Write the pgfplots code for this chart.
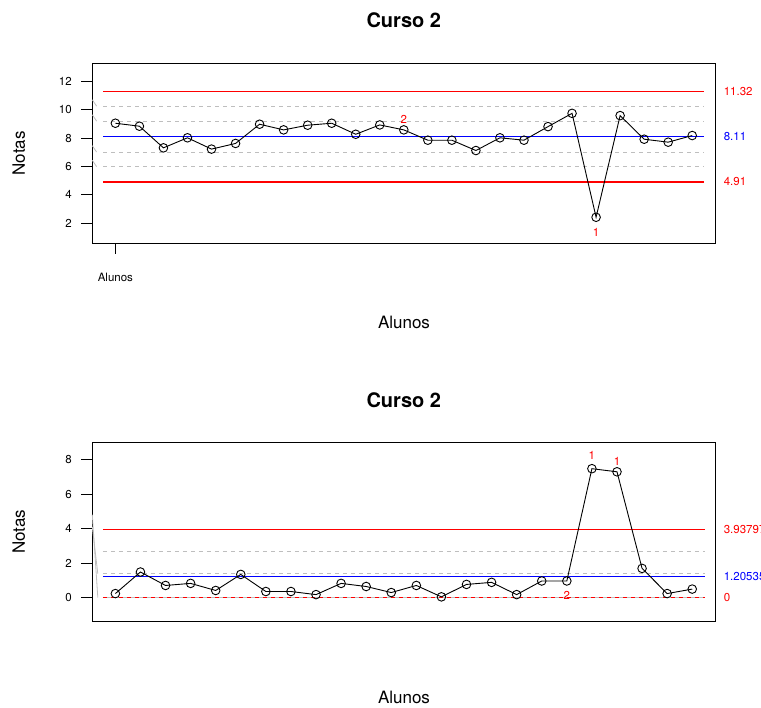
\documentclass[border=0pt]{standalone}
\usepackage{fontspec}
\setmainfont{TeX Gyre Heros}
\usepackage{pgfplots}
\pgfplotsset{compat=1.18}
\definecolor{qred}{RGB}{255,0,0}
\definecolor{qblue}{RGB}{0,0,255}
\definecolor{qgray}{RGB}{190,190,190}
\begin{document}
\begin{tikzpicture}[x=1pt,y=1pt]
\path[use as bounding box] (0pt,0pt) rectangle (761pt,708pt);
\pgfplotsset{
  qcc/.style={
    scale only axis, width=623pt,
    axis line style={line width=0.9pt},
    tick align=outside, major tick length=11pt,
    tick style={line width=0.9pt, black},
    ytick pos=left, xtick pos=bottom,
    ticklabel style={font=\fontsize{11.5}{13}\selectfont},
    yticklabel style={xshift=-6pt},
    xticklabel style={yshift=-16pt},
    /pgf/number format/assume math mode=true,
    clip=false,
  },
  zone/.style={draw=qgray, line width=0.9pt, dash pattern=on 4pt off 4pt, forget plot},
  slant/.style={draw=qgray, line width=0.8pt, forget plot},
  pts/.style={draw=black, line width=0.9pt, mark=o, mark size=4.3pt},
  redline/.style={forget plot, draw=qred, line width=1.2pt},
}
% ---- titles and labels
\node[font=\bfseries\fontsize{20}{24}\selectfont] at (403.8pt,688pt) {Curso 2};
\node[font=\bfseries\fontsize{20}{24}\selectfont] at (403.8pt,308pt) {Curso 2};
\node[rotate=90, font=\fontsize{17}{20}\selectfont] at (18.8pt,554.7pt) {Notas};
\node[rotate=90, font=\fontsize{17}{20}\selectfont] at (18.8pt,176.3pt) {Notas};
\node[font=\fontsize{17}{20}\selectfont] at (404pt,386pt) {Alunos};
\node[font=\fontsize{17}{20}\selectfont] at (404pt,11pt) {Alunos};

% ---- individual values
\begin{axis}[qcc, at={(92.3pt,465pt)}, anchor=south west, height=179.7pt,
  xmin=0.04, xmax=25.96, ymin=0.59, ymax=13.3,
  ytick={2,4,...,12}, xtick={1}, xticklabels={Alunos}]
  \addplot[slant] coordinates {(0.04,10.72) (0.22,10.27)};
  \addplot[slant] coordinates {(0.04,9.66) (0.22,9.21)};
  \addplot[slant] coordinates {(0.04,7.47) (0.22,7.02)};
  \addplot[slant] coordinates {(0.04,6.44) (0.22,5.99)};
  \addplot[zone] coordinates {(0.5,10.27) (25.5,10.27)};
  \addplot[zone] coordinates {(0.5,9.21) (25.5,9.21)};
  \addplot[zone] coordinates {(0.5,7.02) (25.5,7.02)};
  \addplot[zone] coordinates {(0.5,5.99) (25.5,5.99)};
  \addplot[forget plot, draw=qblue, line width=1pt] coordinates {(0.5,8.11) (25.5,8.11)};
  \addplot[redline] coordinates {(0.5,4.91) (25.5,4.91)};
  \addplot[redline] coordinates {(0.5,11.32) (13,11.32) (25.5,11.32)};
  \addplot[pts] coordinates {
    (1,9.06) (2,8.85) (3,7.32) (4,8.03) (5,7.23) (6,7.63) (7,8.99) (8,8.59)
    (9,8.92) (10,9.06) (11,8.28) (12,8.94) (13,8.59) (14,7.86) (15,7.86)
    (16,7.13) (17,8.03) (18,7.86) (19,8.82) (20,9.76) (21,2.41) (22,9.60)
    (23,7.93) (24,7.72) (25,8.19)};
  \node[text=qred, font=\fontsize{11.5}{13}\selectfont] at (axis cs:13,9.34) {2};
  \node[text=qred, font=\fontsize{11.5}{13}\selectfont] at (axis cs:21,1.32) {1};
  \node[text=qred, anchor=west, xshift=5pt, font=\fontsize{11.5}{13}\selectfont] at (axis cs:25.96,11.32) {11.32};
  \node[text=qblue, anchor=west, xshift=5pt, font=\fontsize{11.5}{13}\selectfont] at (axis cs:25.96,8.11) {8.11};
  \node[text=qred, anchor=west, xshift=5pt, font=\fontsize{11.5}{13}\selectfont] at (axis cs:25.96,4.91) {4.91};
\end{axis}

% ---- moving ranges
\begin{axis}[qcc, at={(92.3pt,86.3pt)}, anchor=south west, height=179.4pt,
  xmin=0.08, xmax=24.92, ymin=-1.4, ymax=9.0,
  ytick={0,2,...,8}, xtick=\empty]
  \addplot[slant] coordinates {(0.08,4.1) (0.3,1.38)};
  \addplot[slant] coordinates {(0.08,4.8) (0.3,0)};
  \addplot[zone] coordinates {(0.5,2.66) (24.5,2.66)};
  \addplot[zone] coordinates {(0.5,1.38) (24.5,1.38)};
  \addplot[draw=qgray, line width=1pt, forget plot] coordinates {(0.5,0) (24.5,0)};
  \addplot[forget plot, draw=qblue, line width=1pt] coordinates {(0.5,1.2053) (24.5,1.2053)};
  \addplot[redline] coordinates {(0.5,3.938) (12.5,3.938) (24.5,3.938)};
  \addplot[redline, dash pattern=on 4pt off 4pt] coordinates {(0.5,0) (12.5,0) (24.5,0)};
  \addplot[pts] coordinates {
    (1,0.23) (2,1.48) (3,0.70) (4,0.82) (5,0.41) (6,1.34) (7,0.35) (8,0.35)
    (9,0.17) (10,0.82) (11,0.64) (12,0.29) (13,0.70) (14,0.04) (15,0.76)
    (16,0.88) (17,0.17) (18,0.96) (19,0.96) (20,7.47) (21,7.29) (22,1.69)
    (23,0.23) (24,0.49)};
  \node[text=qred, font=\fontsize{11.5}{13}\selectfont] at (axis cs:20,8.22) {1};
  \node[text=qred, font=\fontsize{11.5}{13}\selectfont] at (axis cs:21,7.91) {1};
  \node[text=qred, font=\fontsize{11.5}{13}\selectfont] at (axis cs:19,0.14) {2};
  \node[text=qred, anchor=west, xshift=5pt, font=\fontsize{11.5}{13}\selectfont] at (axis cs:24.92,3.938) {3.937971};
  \node[text=qblue, anchor=west, xshift=5pt, font=\fontsize{11.5}{13}\selectfont] at (axis cs:24.92,1.2053) {1.205357};
  \node[text=qred, anchor=west, xshift=5pt, font=\fontsize{11.5}{13}\selectfont] at (axis cs:24.92,0) {0};
\end{axis}
\end{tikzpicture}
\end{document}
